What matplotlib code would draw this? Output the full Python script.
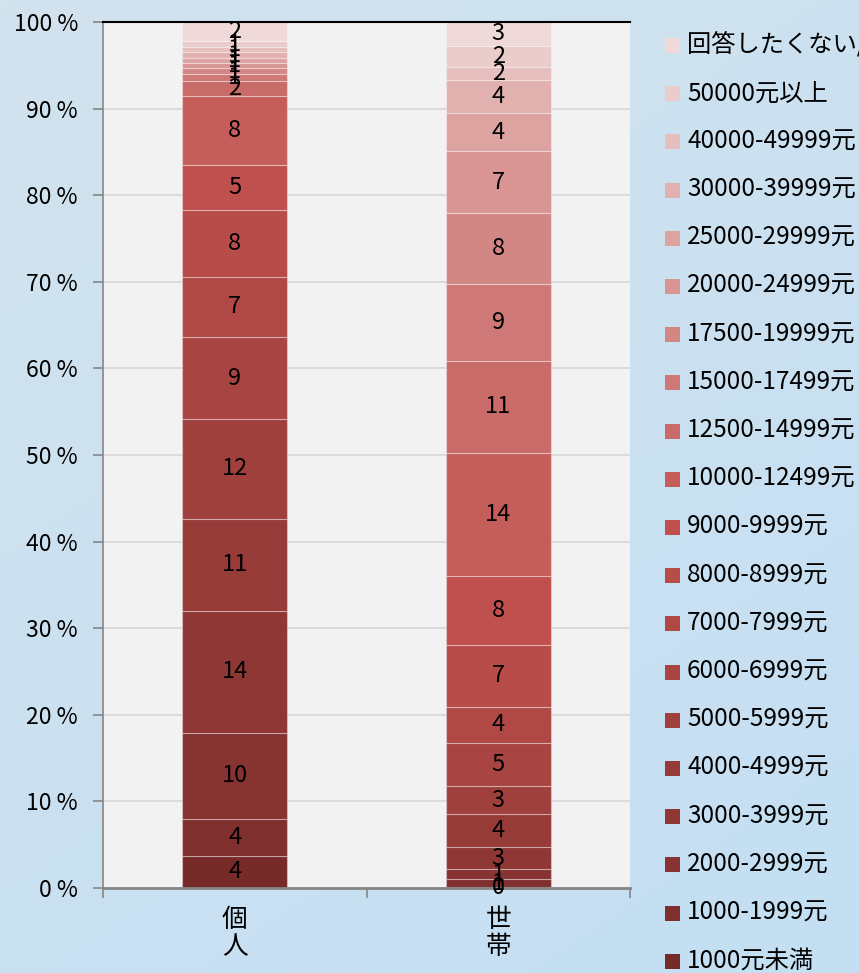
import numpy as np
import matplotlib
matplotlib.use('Agg')
import matplotlib.pyplot as plt
from matplotlib.colors import LinearSegmentedColormap
from matplotlib.patches import Rectangle

plt.rcParams['font.family'] = ['Noto Sans CJK JP', 'DejaVu Sans']

groups = ['個\n人', '世\n帯']

# income brackets, bottom of the stack first
brackets = ['1000元未満', '1000-1999元', '2000-2999元', '3000-3999元',
            '4000-4999元', '5000-5999元', '6000-6999元', '7000-7999元',
            '8000-8999元', '9000-9999元', '10000-12499元', '12500-14999元',
            '15000-17499元', '17500-19999元', '20000-24999元', '25000-29999元',
            '30000-39999元', '40000-49999元', '50000元以上',
            '回答したくない/わからない']

# share in % per bracket
kojin = [3.7, 4.2, 10.0, 14.0, 10.6, 11.5, 9.4, 7.0, 7.6, 5.2,
         8.0, 1.7, 0.8, 0.7, 0.6, 0.6, 0.6, 0.6, 0.7, 2.2]
setai = [0.1, 0.9, 1.15, 2.6, 3.74, 3.27, 5.0, 4.12, 7.12, 8.0,
         14.17, 10.58, 8.86, 8.2, 7.12, 4.42, 3.73, 1.6, 2.4, 2.74]

W, H = 859, 973
fig = plt.figure(figsize=(W / 100, H / 100), dpi=100)

# light blue background
bg = fig.add_axes([0, 0, 1, 1], zorder=-10)
yy, xx = np.mgrid[0:1:200j, 0:1:200j]
grad = 0.5 * yy + 0.3 * xx
bg_cmap = LinearSegmentedColormap.from_list('bg', ['#d2e3ee', '#c4dff3'])
bg.imshow(grad, cmap=bg_cmap, aspect='auto', extent=[0, 1, 0, 1])
bg.axis('off')

# bar colours: dark red -> accent red -> pale pink
dark = LinearSegmentedColormap.from_list('d', ['#772b29', '#c0504d'])
light = LinearSegmentedColormap.from_list('l', ['#c0504d', '#efdad9'])
colors = [dark(i / 9) for i in range(10)] + [light(i / 10) for i in range(1, 11)]

ax = fig.add_axes([103 / W, 85 / H, 527 / W, 866 / H])
ax.set_facecolor('#f2f2f2')

k_tot = sum(kojin)
s_tot = sum(setai)
x = np.arange(len(groups))
bottom = np.zeros(len(groups))
for i, name in enumerate(brackets):
    vals = np.array([kojin[i] / k_tot * 100, setai[i] / s_tot * 100])
    bars = ax.bar(x, vals, 0.4, bottom=bottom, color=colors[i],
                  edgecolor=(1, 1, 1, 0.35), linewidth=0.8, label=name)
    labs = [str(int(kojin[i] + 0.5)), str(int(setai[i] + 0.5))]
    ax.bar_label(bars, labels=labs, label_type='center', fontsize=17,
                 color='black')
    bottom += vals

ax.set_xlim(-0.5, 1.5)
ax.set_ylim(0, 100)
ax.set_yticks(range(0, 101, 10))
ax.set_yticklabels([f'{v} %' for v in range(0, 101, 10)], fontsize=16.5)
ax.set_xticks(x)
ax.set_xticklabels(groups, fontsize=18.5, linespacing=1.05)
ax.set_xticks([-0.5, 0.5, 1.5], minor=True)
ax.tick_params(axis='x', which='major', length=0, pad=14)
ax.tick_params(axis='x', which='minor', length=7, width=1.2, color='#868686')
ax.tick_params(axis='y', length=7, width=1.2, color='#868686', pad=11)
ax.grid(axis='y', color='#d9d9d9', linewidth=1.3)
ax.set_axisbelow(True)
ax.spines['right'].set_visible(False)
ax.spines['top'].set_color('black')
ax.spines['top'].set_linewidth(1.5)
ax.spines['left'].set_color('#868686')
ax.spines['left'].set_linewidth(1.2)
ax.spines['bottom'].set_color('#868686')
ax.spines['bottom'].set_linewidth(2)

# legend, top entry first
for j, i in enumerate(range(len(brackets) - 1, -1, -1)):
    yc = 45 + j * 48.2
    fig.patches.append(Rectangle((665 / W, 1 - (yc + 8) / H), 15 / W, 15 / H,
                                 transform=fig.transFigure,
                                 facecolor=colors[i], edgecolor='none'))
    fig.text(687 / W, 1 - yc / H, brackets[i], fontsize=17.5,
             va='center', ha='left')

fig.savefig('out.png', dpi=100)
